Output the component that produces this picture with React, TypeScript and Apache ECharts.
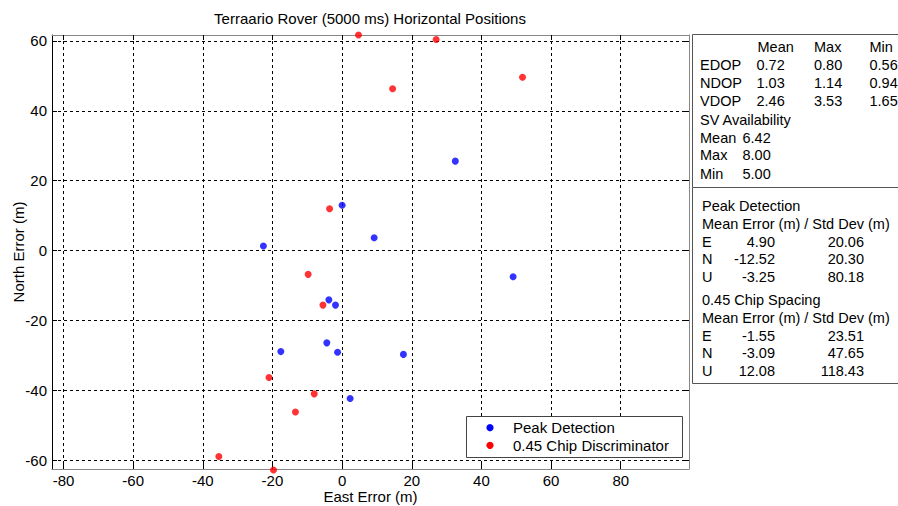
import React, { useEffect, useRef } from "react";
import * as echarts from "echarts";

const titleText = "Terraario Rover (5000 ms) Horizontal Positions";
const xAxisName = "East Error (m)";
const yAxisName = "North Error (m)";
const xTicks = [-80, -60, -40, -20, 0, 20, 40, 60, 80];
const yTicks = [-60, -40, -20, 0, 20, 40, 60];

const seriesNames = ["Peak Detection", "0.45 Chip Discriminator"];
const seriesColors = ["#0000ff", "#ff0000"];

const peakEast = [0.0, -22.6, 32.5, 9.2, 49.1, -3.8, -1.9, -4.4, -17.6, -1.3, 17.6, 2.3];
const peakNorth = [13.0, 1.3, 25.6, 3.7, -7.5, -14.1, -15.6, -26.4, -28.9, -29.1, -29.7, -42.3];

const chipEast = [4.7, 27.0, 14.5, 51.8, -3.6, -9.75, -5.5, -21.0, -8.0, -13.4, -35.4, -19.7];
const chipNorth = [61.7, 60.4, 46.3, 49.6, 12.0, -6.8, -15.6, -36.3, -41.0, -46.2, -58.9, -62.8];

const dopHeader = ["Mean", "Max", "Min"];
const dopLabels = ["EDOP", "NDOP", "VDOP"];
const dopMean = ["0.72", "1.03", "2.46"];
const dopMax = ["0.80", "1.14", "3.53"];
const dopMin = ["0.56", "0.94", "1.65"];

const svTitle = "SV Availability";
const svLabels = ["Mean", "Max", "Min"];
const svValues = ["6.42", "8.00", "5.00"];

const errHeader = "Mean Error (m) / Std Dev (m)";
const axesLabels = ["E", "N", "U"];
const peakTitle = "Peak Detection";
const peakMean = ["4.90", "-12.52", "-3.25"];
const peakStd = ["20.06", "20.30", "80.18"];
const chipTitle = "0.45 Chip Spacing";
const chipMean = ["-1.55", "-3.09", "12.08"];
const chipStd = ["23.51", "47.65", "118.43"];

const FONT = "'Liberation Sans', Arial, sans-serif";
const PANEL_SIZE = 14.5;
const AXIS_SIZE = 15;

export default function App() {
  const ref = useRef<HTMLDivElement>(null);
  useEffect(() => {
    if (!ref.current) return;
    const chart = echarts.init(ref.current, null, { renderer: "svg" });

    const txt = (x: number, y: number, text: string, align: string = "left", size = PANEL_SIZE) => ({
      type: "text",
      x,
      y,
      style: {
        text,
        fill: "#000",
        font: `${size}px ${FONT}`,
        textAlign: align,
        textVerticalAlign: "middle",
      },
      z: 100,
    });

    const graphics: any[] = [];
    graphics.push(txt(370, 18, titleText, "center", 15));
    graphics.push({
      type: "rect",
      shape: { x: 692.5, y: 34.5, width: 230, height: 153 },
      style: { fill: "#fff", stroke: "#555", lineWidth: 1 },
      z: 90,
    });
    graphics.push({
      type: "rect",
      shape: { x: 692.5, y: 187.5, width: 230, height: 196 },
      style: { fill: "#fff", stroke: "#555", lineWidth: 1 },
      z: 90,
    });
    const dopCols = [757.5, 814, 869.5];
    dopHeader.forEach((h, i) => graphics.push(txt(dopCols[i], 47, h)));
    const dopRows = [65, 83, 101];
    dopLabels.forEach((l, i) => {
      graphics.push(txt(700, dopRows[i], l));
      graphics.push(txt(dopCols[0] - 1, dopRows[i], dopMean[i]));
      graphics.push(txt(dopCols[1], dopRows[i], dopMax[i]));
      graphics.push(txt(dopCols[2], dopRows[i], dopMin[i]));
    });
    graphics.push(txt(700, 120, svTitle));
    const svRows = [137.5, 155, 173.5];
    svLabels.forEach((l, i) => {
      graphics.push(txt(700, svRows[i], l));
      graphics.push(txt(742.5, svRows[i], svValues[i]));
    });

    const block = (top: number, title: string, means: string[], stds: string[]) => {
      graphics.push(txt(702, top, title));
      graphics.push(txt(702, top + 18.3, errHeader));
      const rows = [top + 36, top + 53.3, top + 71];
      axesLabels.forEach((a, i) => {
        graphics.push(txt(702, rows[i], a));
        graphics.push(txt(775, rows[i], means[i], "right"));
        graphics.push(txt(864, rows[i], stds[i], "right"));
      });
    };
    block(205.7, peakTitle, peakMean, peakStd);
    block(300, chipTitle, chipMean, chipStd);

    // legend box
    graphics.push({
      type: "rect",
      shape: { x: 466.5, y: 416.5, width: 216, height: 41 },
      style: { fill: "#fff", stroke: "#444", lineWidth: 1 },
      z: 95,
    });
    const legendRows = [427.7, 445.3];
    seriesNames.forEach((n, i) => {
      graphics.push({
        type: "circle",
        shape: { cx: 490, cy: legendRows[i], r: 3.6 },
        style: { fill: seriesColors[i] },
        z: 100,
      });
      graphics.push(txt(513, legendRows[i], n, "left", AXIS_SIZE));
    });

    const xMin = -83.3, xMax = 99.6, yMin = -62.5, yMax = 61.7;

    chart.setOption({
      animation: false,
      backgroundColor: "#fff",
      textStyle: { fontFamily: FONT },
      grid: { left: 52, top: 35, width: 637, height: 434, containLabel: false, outerBoundsMode: "none" },
      xAxis: [
        {
          type: "value",
          min: xMin,
          max: xMax,
          position: "bottom",
          name: xAxisName,
          nameLocation: "middle",
          nameGap: 20,
          nameMoveOverlap: false,
          nameTextStyle: { color: "#000", fontSize: AXIS_SIZE, fontFamily: FONT },
          axisLine: { show: true, onZero: false, lineStyle: { color: "#888", width: 1 } },
          axisTick: { show: true, inside: true, length: 5, customValues: xTicks, lineStyle: { color: "#000" } },
          axisLabel: { customValues: xTicks, color: "#000", fontSize: AXIS_SIZE, fontFamily: FONT, margin: 4 },
          splitLine: { show: true, lineStyle: { color: "#000", type: [3, 3], width: 1 } },
        },
        {
          type: "value",
          min: xMin,
          max: xMax,
          position: "top",
          axisLine: { show: true, onZero: false, lineStyle: { color: "#888", width: 1 } },
          axisTick: { show: true, inside: true, length: 5, customValues: xTicks, lineStyle: { color: "#000" } },
          axisLabel: { show: false },
          splitLine: { show: false },
        },
      ],
      yAxis: [
        {
          type: "value",
          min: yMin,
          max: yMax,
          position: "left",
          name: yAxisName,
          nameLocation: "middle",
          nameGap: 26,
          nameMoveOverlap: false,
          nameTextStyle: { color: "#000", fontSize: AXIS_SIZE, fontFamily: FONT },
          axisLine: { show: true, onZero: false, lineStyle: { color: "#000", width: 1 } },
          axisTick: { show: true, inside: true, length: 5, customValues: yTicks, lineStyle: { color: "#000" } },
          axisLabel: { customValues: yTicks, color: "#000", fontSize: AXIS_SIZE, fontFamily: FONT, margin: 5 },
          splitLine: { show: true, lineStyle: { color: "#000", type: [3, 3], width: 1 } },
        },
        {
          type: "value",
          min: yMin,
          max: yMax,
          position: "right",
          axisLine: { show: true, onZero: false, lineStyle: { color: "#888", width: 1 } },
          axisTick: { show: true, inside: true, length: 5, customValues: yTicks, lineStyle: { color: "#000" } },
          axisLabel: { show: false },
          splitLine: { show: false },
        },
      ],
      series: [
        {
          name: seriesNames[0],
          type: "scatter",
          xAxisIndex: 0,
          yAxisIndex: 0,
          symbol: "circle",
          symbolSize: 7,
          itemStyle: { color: seriesColors[0] },
          data: peakEast.map((x, i) => [x, peakNorth[i]]),
          clip: false,
        },
        {
          name: seriesNames[1],
          type: "scatter",
          xAxisIndex: 0,
          yAxisIndex: 0,
          symbol: "circle",
          symbolSize: 7,
          itemStyle: { color: seriesColors[1] },
          data: chipEast.map((x, i) => [x, chipNorth[i]]),
          clip: false,
        },
      ],
      graphic: graphics,
    });

    return () => chart.dispose();
  }, []);

  return (
    <div
      ref={ref}
      style={{ position: "absolute", left: 0, top: 0, width: 898, height: 506, background: "#fff" }}
    />
  );
}
